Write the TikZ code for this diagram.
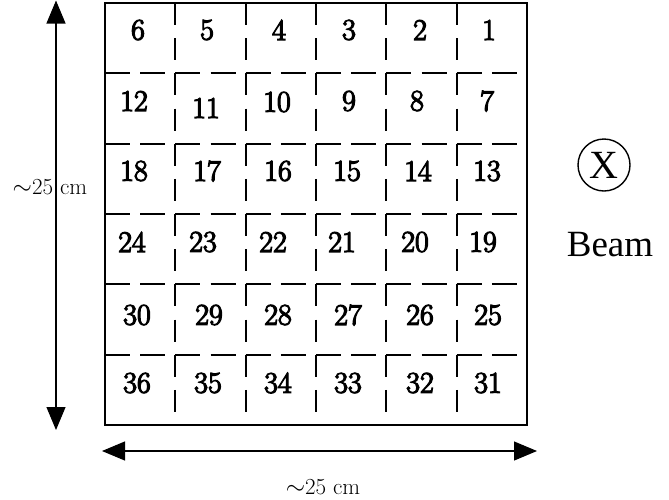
\documentclass[tikz,border=0pt]{standalone}
\usepackage{fontspec}
\usetikzlibrary{arrows.meta}
\newfontfamily\numfont[FakeBold=4]{Latin Modern Roman}
\newfontfamily\tmfont{Liberation Serif}
\begin{document}
\begin{tikzpicture}[x=1pt,y=-1pt,
  num/.style={inner sep=0pt,font=\numfont\fontsize{30}{34}\selectfont},
  dimlabel/.style={inner sep=0pt,font=\fontsize{23}{26}\selectfont},
  hgrid/.style={line width=2.2pt,dash pattern=on 25pt off 10.17pt},
  vgrid/.style={line width=2.2pt,dash pattern=on 22pt off 13.17pt},
  border/.style={line width=2.6pt},
  dimarrow/.style={line width=1.1pt,{Triangle[length=23pt,width=19pt]}-{Triangle[length=23pt,width=19pt]}},
  beamtxt/.style={inner sep=0pt,font=\tmfont\fontsize{37}{40}\selectfont}]
\useasboundingbox (0,0) rectangle (669,499);
% grid
\foreach \i in {1,...,5}{
  \draw[vgrid] ({105+\i*70.333},3) -- ({105+\i*70.333},425);
  \draw[hgrid] (105,{3+\i*70.333}) -- (527,{3+\i*70.333});
}
\draw[border] (105,3) rectangle (527,425);
% numbers
\foreach \n/\x/\y in {
 6/138/30, 5/207/30, 4/279/30, 3/349/30, 2/420/30, 1/489/30,
 12/134/101, 11/206/108, 10/277/102, 9/349/101, 8/417/101, 7/487/101,
 18/134/171, 17/207/171, 16/278/171, 15/347/171, 14/418/171, 13/487/171,
 24/132/242, 23/203/242, 22/273/242, 21/342/242, 20/415/242, 19/483/242,
 30/137/315, 29/209/315, 28/278/315, 27/348/315, 26/420/315, 25/488/315,
 36/137/383, 35/208/383, 34/278/383, 33/348/383, 32/420/383, 31/488/383}{
  \node[num] (n\n) at (\x,\y) {\n};
}
% dimension arrows
\coordinate (vt) at (56,0.5);
\coordinate (vb) at (56,430);
\draw[dimarrow] (vt) -- (vb);
\coordinate (hl) at (102,451);
\coordinate (hr) at (537,451);
\draw[dimarrow] (hl) -- (hr);
\node[dimlabel] (lblv) at (50,187) {$\sim$25 cm};
\node[dimlabel] (lblh) at (323,487) {$\sim$25 cm};
% beam
\node[circle,draw,line width=1.4pt,minimum size=52pt,inner sep=0pt,font=\tmfont\fontsize{40}{44}\selectfont] (bx) at (604,165) {X};
\node[beamtxt] (beam) at (610,245) {Beam};
\end{tikzpicture}
\end{document}
